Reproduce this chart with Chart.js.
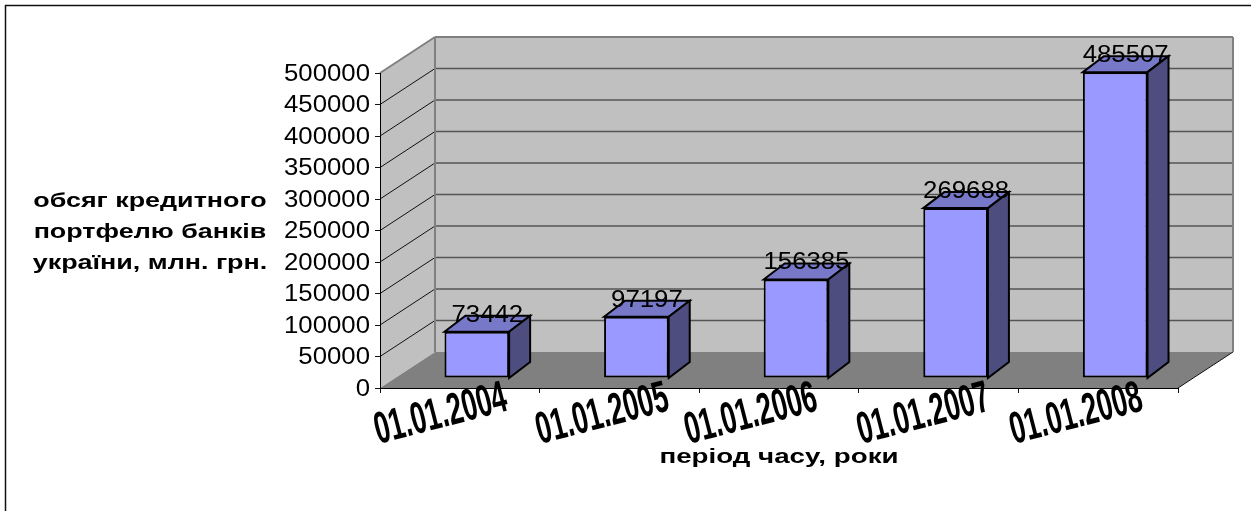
<!DOCTYPE html>
<html>
<head>
<meta charset="utf-8">
<style>
  html, body { margin: 0; padding: 0; background: #fff; }
  #wrap { width: 1251px; height: 511px; }
</style>
<script src="https://cdn.jsdelivr.net/npm/chart.js@4/dist/chart.umd.min.js"></script>
</head>
<body>
<div id="wrap"><canvas id="chart" width="1251" height="511"></canvas></div>
<script>
const categories = ['01.01.2004', '01.01.2005', '01.01.2006', '01.01.2007', '01.01.2008']
const values = [73442, 97197, 156385, 269688, 485507]
const yTitleLines = ['обсяг кредитного', 'портфелю банків', 'україни, млн. грн.']
const xTitle = 'період часу, роки'

// depth of the fake 3d box, in px
const WALL_DX = 55
const WALL_DY = -36
const BAR_SHIFT_X = 17
const BAR_SHIFT_Y = -10
const SIDE_DX = 21
const SIDE_DY = -16

// the rotated date labels don't sit evenly under their categories in the reference
const X_LABEL_NUDGE = [-19, -17, -28, -15, -22]

const FONT = '"Liberation Sans", Arial, sans-serif'

function poly(ctx, pts, fill, stroke, lw) {
    ctx.beginPath()
    pts.forEach((p, i) => (i ? ctx.lineTo(p[0], p[1]) : ctx.moveTo(p[0], p[1])))
    ctx.closePath()
    if (fill) {
        ctx.fillStyle = fill
        ctx.fill()
    }
    if (stroke) {
        ctx.strokeStyle = stroke
        ctx.lineWidth = lw
        ctx.stroke()
    }
}

function line(ctx, x1, y1, x2, y2, color, lw) {
    ctx.beginPath()
    ctx.moveTo(x1, y1)
    ctx.lineTo(x2, y2)
    ctx.strokeStyle = color
    ctx.lineWidth = lw
    ctx.stroke()
}

// the reference text is stretched sideways, canvas text can only do that with a transform
function wideText(ctx, text, x, y, font, sx, align) {
    ctx.save()
    ctx.translate(x, y)
    ctx.scale(sx, 1)
    ctx.font = font
    ctx.fillStyle = '#000'
    ctx.textAlign = align
    ctx.textBaseline = 'middle'
    ctx.fillText(text, 0, 0)
    ctx.restore()
}

const box3d = {
    id: 'box3d',
    beforeDraw(chart) {
        const { ctx, chartArea: a, scales: { y } } = chart
        const bx = a.left + WALL_DX
        const bxr = a.right + WALL_DX
        const top = y.getPixelForValue(y.max)
        const base = y.getPixelForValue(0)

        ctx.save()
        // picture is cropped, only the top and left of the frame are left
        line(ctx, 5, 5.5, 1251, 5.5, '#111', 1.5)
        line(ctx, 5.5, 5, 5.5, 511, '#111', 1.5)

        // back and side wall
        poly(ctx, [[bx, top + WALL_DY], [bxr, top + WALL_DY], [bxr, base + WALL_DY], [bx, base + WALL_DY]], '#c0c0c0')
        poly(ctx, [[a.left, top], [bx, top + WALL_DY], [bx, base + WALL_DY], [a.left, base]], '#c0c0c0')

        y.ticks.forEach((t) => {
            if (t.value === 0 || t.value === y.max) return
            const py = y.getPixelForValue(t.value)
            line(ctx, a.left, py, bx, py + WALL_DY, '#111', 1)
            line(ctx, bx, py + WALL_DY, bxr, py + WALL_DY, '#555', 1.5)
        })

        // floor
        poly(ctx, [[a.left, base], [bx, base + WALL_DY], [bxr, base + WALL_DY], [a.right, base]], '#808080')
        line(ctx, a.right, base, bxr, base + WALL_DY, '#111', 1)

        // wall edges
        line(ctx, a.left, top, bx, top + WALL_DY, '#808080', 2)
        line(ctx, bx, top + WALL_DY, bxr, top + WALL_DY, '#808080', 2)
        line(ctx, bx, top + WALL_DY, bx, base + WALL_DY, '#808080', 2)
        line(ctx, bxr, top + WALL_DY, bxr, base + WALL_DY, '#808080', 2)
        ctx.restore()
    },
    beforeDatasetsDraw(chart) {
        const { ctx, scales: { y } } = chart
        const base = y.getPixelForValue(0)

        ctx.save()
        ctx.translate(BAR_SHIFT_X, BAR_SHIFT_Y)
        ctx.lineJoin = 'miter'
        chart.getDatasetMeta(0).data.forEach((bar) => {
            const l = bar.x - bar.width / 2
            const r = bar.x + bar.width / 2
            poly(ctx, [[l, bar.y], [l + SIDE_DX, bar.y + SIDE_DY], [r + SIDE_DX, bar.y + SIDE_DY], [r, bar.y]], '#7878c8', '#000', 2)
            poly(ctx, [[r, bar.y], [r + SIDE_DX, bar.y + SIDE_DY], [r + SIDE_DX, base + SIDE_DY], [r, base]], '#4d4d80', '#000', 2)
        })
    },
    afterDatasetsDraw(chart) {
        const { ctx } = chart
        ctx.restore()

        // value labels sit above the box, centred on its top face
        chart.getDatasetMeta(0).data.forEach((bar, i) => {
            wideText(ctx, String(values[i]), bar.x + BAR_SHIFT_X + SIDE_DX / 2, bar.y + BAR_SHIFT_Y - 16.5, '23px ' + FONT, 1.12, 'center')
        })
    },
    afterDraw(chart) {
        const { ctx, chartArea: a, scales: { x, y } } = chart

        y.ticks.forEach((t) => {
            wideText(ctx, String(t.value), a.left - 10, y.getPixelForValue(t.value) + 1.5, '23px ' + FONT, 1.12, 'right')
        })

        x.ticks.forEach((t, i) => {
            ctx.save()
            ctx.translate(x.getPixelForValue(i) + X_LABEL_NUDGE[i], a.bottom + 27)
            ctx.rotate(-14.5 * Math.PI / 180)
            ctx.scale(0.6, 1)
            ctx.font = 'bold 45px ' + FONT
            ctx.fillStyle = '#000'
            ctx.textAlign = 'center'
            ctx.textBaseline = 'middle'
            ctx.fillText(categories[i], 0, 0)
            ctx.restore()
        })

        yTitleLines.forEach((s, i) => {
            wideText(ctx, s, 150, 201 + i * 31, 'bold 21px ' + FONT, 1.28, 'center')
        })
        wideText(ctx, xTitle, 779, 457, 'bold 21px ' + FONT, 1.32, 'center')
    },
}

new Chart(document.getElementById('chart'), {
    type: 'bar',
    data: {
        labels: categories,
        datasets: [
            {
                data: values,
                backgroundColor: '#9999ff',
                borderColor: '#000',
                borderWidth: 2,
                borderSkipped: false,
                barPercentage: 0.405,
                categoryPercentage: 1,
                clip: false,
            },
        ],
    },
    options: {
        responsive: false,
        animation: {
            duration: 0,
        },
        layout: {
            padding: { left: 375, right: 73, top: 73, bottom: 118 },
        },
        plugins: {
            legend: {
                display: false,
            },
            tooltip: {
                enabled: false,
            },
        },
        scales: {
            x: {
                ticks: { display: false },
                grid: { drawOnChartArea: false, tickLength: 5, color: '#111' },
                border: { color: '#000', width: 1 },
            },
            y: {
                min: 0,
                max: 500000,
                ticks: { display: false, stepSize: 50000 },
                grid: { drawOnChartArea: false, tickLength: 5, color: '#111' },
                border: { color: '#000', width: 1 },
            },
        },
    },
    plugins: [box3d],
})
</script>
</body>
</html>
